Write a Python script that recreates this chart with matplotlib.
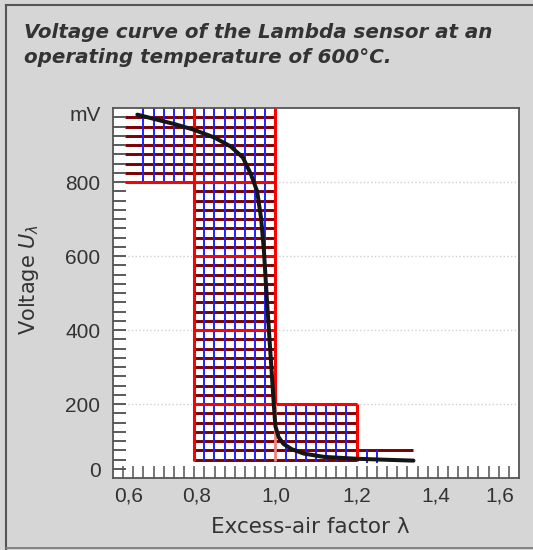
import numpy as np
import matplotlib.pyplot as plt
from matplotlib.lines import Line2D

# Kennlinie der Lambda-Sonde
lam = [0.66, 0.71, 0.75, 0.80, 0.85, 0.89, 0.92, 0.94, 0.955, 0.965, 0.972,
       0.978, 0.984, 0.990, 0.996, 1.000, 1.008, 1.02, 1.04, 1.07, 1.12, 1.20,
       1.28, 1.34]
mv = [982, 968, 957, 941, 920, 896, 866, 820, 775, 700, 610,
      500, 400, 300, 200, 140, 110, 92, 78, 66, 57, 52,
      49, 47]

# Beschriftungen
x_labels = ['0,6', '0,8', '1,0', '1,2', '1,4', '1,6']
x_label_pos = [0.638, 0.806, 1.0, 1.2, 1.396, 1.553]
y_labels = ['0', '200', '400', '600', '800', 'mV']
y_label_pos = [22, 200, 400, 600, 800, 985]

# Raster (Overlay)
step = 25
red_h = [800, 600, 400, 200]

BG = '#d6d6d6'
TXT = '#333333'
DARKRED = '#780000'
BLUE = '#1f1fff'

fig = plt.figure(figsize=(5.33, 5.5), dpi=100, facecolor=BG)

# Rahmen
fig.add_artist(Line2D([6/533, 6/533], [0, 1 - 5/550], transform=fig.transFigure, color='#555', lw=1.5))
fig.add_artist(Line2D([6/533, 1], [1 - 5/550, 1 - 5/550], transform=fig.transFigure, color='#555', lw=1.5))
fig.add_artist(Line2D([6/533, 1], [1 - 548/550, 1 - 548/550], transform=fig.transFigure, color='#777', lw=1.2))

# Titel
fig.text(24/533, 1 - 38/550, 'Voltage curve of the Lambda sensor at an',
         family='DejaVu Sans', weight='bold', style='italic', fontsize=14.3, color=TXT)
fig.text(24/533, 1 - 63/550, 'operating temperature of 600°C.',
         family='DejaVu Sans', weight='bold', style='italic', fontsize=14.3, color=TXT)

ax = fig.add_axes([113/533, 1 - 478/550, 406/533, 370/550])
ax.set_facecolor('white')
ax.set_xlim(0.6, 1.6)
ax.set_ylim(0, 1000)

# schwache gepunktete Hilfslinien
for y in red_h:
    ax.axhline(y, color='#d0d0d0', ls=':', lw=1, zorder=0)

# dunkelrote Horizontalen
hA = np.arange(825, 1000, step)
ax.hlines(hA, 0.63, 1.0, color=DARKRED, lw=2.1, zorder=1)
hB = [v for v in np.arange(50, 800, step) if v not in red_h]
ax.hlines([v for v in hB if v >= 200], 0.8, 1.0, color=DARKRED, lw=2.1, zorder=1)
ax.hlines([v for v in hB if v < 200], 0.8, 1.2, color=DARKRED, lw=2.1, zorder=1)
ax.hlines([75], 1.2, 1.34, color=DARKRED, lw=2.1, zorder=1)

# blaue Vertikalen
ax.vlines(np.arange(0.675, 0.79, 0.025), 800, 1000, color=BLUE, lw=1.4, zorder=2)
ax.vlines(np.arange(0.825, 0.99, 0.025), 45, 1000, color=BLUE, lw=1.4, zorder=2)
ax.vlines(np.arange(1.025, 1.19, 0.025), 45, 200, color=BLUE, lw=1.4, zorder=2)
ax.vlines([1.225, 1.25], 40, 75, color=BLUE, lw=1.4, zorder=2)

# rote Begrenzungen
ax.hlines([800], 0.63, 1.0, color='red', lw=2.2, zorder=3)
ax.hlines([600, 400], 0.8, 1.0, color='red', lw=2.2, zorder=3)
ax.hlines([200], 0.8, 1.2, color='red', lw=2.2, zorder=3)
ax.vlines([0.8], 45, 1000, color='red', lw=2.2, zorder=3)
ax.vlines([1.0], 200, 1000, color='red', lw=2.2, zorder=3)
ax.vlines([1.0], 45, 200, color='#f08080', lw=2, zorder=3)
ax.vlines([1.2], 45, 200, color='red', lw=2.2, zorder=3)

# Kennlinie
ax.plot(lam, mv, color='#151515', lw=2.9, solid_capstyle='round', zorder=5)

# Achsen
for s in ax.spines.values():
    s.set_color('#555')
    s.set_linewidth(1.3)

ax.set_xticks(x_label_pos)
ax.set_xticklabels(x_labels)
ax.set_xticks(np.arange(0.625, 1.6, 0.025), minor=True)
ax.set_yticks(y_label_pos)
ax.set_yticklabels(y_labels)
ax.set_yticks(np.arange(25, 1000, step), minor=True)
ax.yaxis.remove_overlapping_locs = False
ax.xaxis.remove_overlapping_locs = False

ax.tick_params(which='major', length=0)
ax.tick_params(axis='x', which='major', pad=6, labelsize=15, labelcolor=TXT)
ax.tick_params(axis='y', which='major', pad=9, labelsize=15, labelcolor=TXT)
ax.tick_params(axis='x', which='minor', direction='in', length=8.5, width=1.4, color='#777')
ax.tick_params(axis='y', which='minor', direction='in', length=9.4, width=1.4, color='#5a5a5a')
for lbl in ax.get_xticklabels() + ax.get_yticklabels():
    lbl.set_family('Liberation Sans')

fig.text(310/533, 1 - 527/550, 'Excess-air factor λ', ha='center', va='center',
         family='DejaVu Sans', fontsize=15.5, color=TXT)
fig.text(29/533, 1 - 280/550, r'Voltage $U_\lambda$', ha='center', va='center',
         rotation=90, family='DejaVu Sans', fontsize=15, color=TXT)

fig.savefig('out.png', dpi=100, facecolor=BG)
